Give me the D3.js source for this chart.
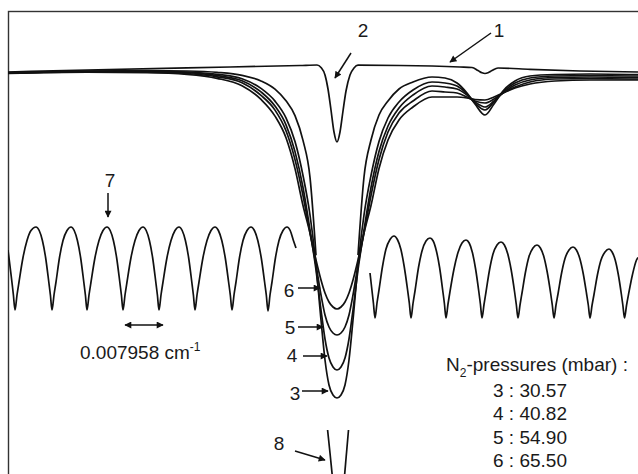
<!DOCTYPE html>
<html>
<head>
<meta charset="utf-8">
<script src="https://cdn.jsdelivr.net/npm/d3@7"></script>
<style>
  body { margin: 0; background: #fff; }
  svg { display: block; }
  text { font-family: "Liberation Sans", Arial, sans-serif; fill: #1a1a1a; }
</style>
</head>
<body>
<svg id="chart" width="638" height="474"></svg>
<script>
// x: relative wavenumber (arb. units, main line centre = 0)
// y: absorption (arb. units, grows downward)

// common x positions of the pressure broadened spectra
const xGrid = [-65.8, -50, -38, -30, -24, -19, -15.2, -12.4, -10.2, -8.4, -6.8, -5.4, -4.2, -3.2, -2.4, -1.6, -0.8, 0,
  0.8, 1.6, 2.4, 3.2, 4.2, 5.4, 6.8, 8.4,
  10.2, 12.4, 15.2, 19, 21.6, 24, 26, 27.6, 29.6, 31.4, 33.2, 35.6, 38.6, 43.6, 50.6, 60.2];

const curve3 = [1.56, 1.28, 1.24, 1.4, 1.86, 2.76, 4.68, 7.22, 10.56, 15.32, 22.1, 30, 40, 51, 59, 64, 66, 66.6,
  66, 64, 59, 51, 40, 30, 22.1, 15.3,
  10.6, 7.4, 5, 3.4, 3.6, 4.2, 5.8, 7.6, 9, 7.4, 5.4, 3.6, 2.6, 2.2, 2.1, 2.2];
const curve4 = [1.6, 1.32, 1.32, 1.54, 2.12, 3.16, 5.38, 8.22, 11.96, 17.32, 24.5, 33, 41, 49, 54.8, 58.6, 60.4, 61,
  60.4, 58.6, 54.8, 49, 41, 33, 24.5, 17.3,
  12.2, 8.6, 6, 4.2, 4.4, 4.8, 6, 7.4, 8.4, 7.2, 5.6, 4, 3, 2.5, 2.4, 2.5];
const curve5 = [1.64, 1.38, 1.42, 1.7, 2.36, 3.56, 6.08, 9.02, 13.16, 18.92, 26.1, 33.6, 40, 46, 50, 52.4, 53.6, 54,
  53.6, 52.4, 50, 46, 40, 33.6, 26.1, 18.9,
  13.4, 9.6, 7.2, 5.2, 5.4, 5.6, 6.4, 7.2, 7.6, 6.8, 5.6, 4.4, 3.4, 2.8, 2.7, 2.8];
const curve6 = [1.68, 1.44, 1.52, 1.86, 2.66, 4.16, 6.88, 10.22, 14.56, 20.72, 28.1, 33.6, 39, 43, 45.6, 47.4, 48.4, 48.8,
  48.4, 47.4, 45.6, 43, 39, 33.6, 28.1, 20.7,
  15, 11, 8.4, 6.4, 6.4, 6.4, 6.6, 6.9, 7, 6.4, 5.6, 4.6, 3.8, 3.2, 3, 3];
// curve 8 wings (centre part missing) and its visible bottom
const curve8 = [1.52, 1.2, 1.12, 1.2, 1.46, 2.06, 3.18, 4.82, 7.16, 10.12, 15.08, 22.46, 38.04,
  null, null, null, null, null, null, null, null, null,
  38, 22.4, 15, 10,
  7.2, 4.8, 3.4, 2.4, 2.6, 3.6, 5.6, 7.8, 10, 7.8, 5.2, 3.2, 2.2, 1.9, 1.8, 1.9];
const curve8BottomX = [-1.88, -1.4, -0.6, 0.3, 1.2, 1.9, 2.3];
const curve8BottomY = [73, 77.6, 85, 88, 85, 77.6, 73];

// low pressure spectrum (lines 1 and 2)
const refX = [-65.8, -50, -30, -7.4, -4, -3.2, -2.4, -1.8, -1.2, -0.6, 0, 0.6, 1.2, 1.8, 2.6, 3.4, 4.2,
  12.6, 24.6, 27, 28.2, 29, 29.6, 30.2, 31, 32.2, 38.6, 48.6, 60.2];
const refY = [1.4, 1.0, 0.56, 0.1, 0, 0.5, 2, 4.8, 9, 13.4, 15.4, 13.4, 9.2, 5.2, 2, 0.6, 0.04,
  0.1, 0.4, 0.5, 1.1, 1.56, 1.7, 1.56, 1.1, 0.6, 0.86, 1.2, 1.4];

// etalon fringes (7), left and right of the main line
const fringeLeftX = [-65.8, -64.72,
  -64.4, -64, -63.6, -62.8, -62, -61.2, -60.2, -59.56, -58.92, -58.28, -57.64, -57.32,
  -57, -56.6, -56.2, -55.5, -54.8, -54, -53.2, -52.56, -51.92, -51.28, -50.64, -50.32,
  -50, -49.6, -49.2, -48.4, -47.6, -46.8, -46, -45.36, -44.72, -44.08, -43.44, -43.12,
  -42.8, -42.4, -42, -41.2, -40.4, -39.6, -38.8, -38.16, -37.52, -36.88, -36.24, -35.92,
  -35.6, -35.2, -34.8, -34, -33.2, -32.4, -31.6, -30.96, -30.32, -29.68, -29.04, -28.72,
  -28.4, -28, -27.6, -26.8, -26, -25.2, -24.4, -23.72, -23.04, -22.36, -21.68, -21.34,
  -21, -20.6, -20.2, -19.5, -18.8, -18, -17.2, -16.52, -15.84, -15.16, -14.48, -14.14,
  -13.8, -13.4, -13, -12.3, -11.6, -10.8, -10, -9.36, -8.72, -8.2];
const fringeLeftY = [37, 46,
  49, 46, 43.4, 38.5, 35.1, 33.1, 32.4, 33.1, 35.1, 38.5, 43.4, 46,
  49, 46, 43.4, 38.5, 35.1, 33.1, 32.4, 33.1, 35.1, 38.5, 43.4, 46,
  49, 46, 43.4, 38.5, 35.1, 33.1, 32.4, 33.1, 35.1, 38.5, 43.4, 46,
  49, 46, 43.4, 38.5, 35.1, 33.1, 32.4, 33.1, 35.1, 38.5, 43.4, 46,
  49, 46, 43.4, 38.5, 35.1, 33.1, 32.4, 33.1, 35.1, 38.5, 43.4, 46,
  49, 46, 43.4, 38.5, 35.1, 33.1, 32.4, 33.1, 35.1, 38.5, 43.4, 46,
  49, 46, 43.4, 38.5, 35.1, 33.1, 32.4, 33.1, 35.1, 38.5, 43.4, 46,
  49.2, 46, 43.4, 38.5, 35.1, 33.1, 32.4, 33.1, 35.1, 36.6];
const fringeRightX = [6.6, 7.28,
  7.6, 8, 8.4, 9.1, 9.8, 10.6, 11.4, 12.08, 12.76, 13.44, 14.12, 14.46,
  14.8, 15.2, 15.6, 16.3, 17, 17.8, 18.6, 19.24, 19.88, 20.52, 21.16, 21.48,
  21.8, 22.2, 22.6, 23.4, 24.2, 25, 25.8, 26.44, 27.08, 27.72, 28.36, 28.68,
  29, 29.4, 29.8, 30.5, 31.2, 32, 32.8, 33.48, 34.16, 34.84, 35.52, 35.86,
  36.2, 36.6, 37, 37.7, 38.4, 39.2, 40, 40.68, 41.36, 42.04, 42.72, 43.06,
  43.4, 43.8, 44.2, 44.9, 45.6, 46.4, 47.2, 47.88, 48.56, 49.24, 49.92, 50.26,
  50.6, 51, 51.4, 52.1, 52.8, 53.6, 54.4, 55.02, 55.64, 56.26, 56.88, 57.18,
  57.5, 57.9, 58.3, 59.1, 59.9, 60.2];
const fringeRightY = [41.6, 47.6,
  50.6, 47.6, 45, 40.3, 36.8, 34.9, 34.2, 34.9, 36.8, 40.3, 45, 47.6,
  50.6, 47.7, 45.2, 40.5, 37.2, 35.2, 34.6, 35.2, 37.2, 40.5, 45.2, 47.7,
  50.6, 47.8, 45.3, 40.8, 37.5, 35.6, 35, 35.6, 37.5, 40.8, 45.3, 47.8,
  50.6, 47.9, 45.4, 41, 37.8, 36, 35.4, 36, 37.8, 41, 45.4, 47.9,
  50.6, 48, 45.6, 41.4, 38.3, 36.6, 36, 36.6, 38.3, 41.4, 45.6, 48,
  50.6, 48, 45.8, 41.7, 38.7, 37, 36.4, 37, 38.7, 41.7, 45.8, 48,
  50.6, 48.1, 45.9, 41.9, 39, 37.4, 36.8, 37.4, 39, 41.9, 45.9, 48.1,
  50.6, 48.1, 45.9, 41.9, 39, 38.5];

const curveIds = [3, 4, 5, 6];
const pressures = ["30.57", "40.82", "54.90", "65.50"];

const svg = d3.select("#chart");
const x = d3.scaleLinear().domain([-65.8, 60.2]).range([8, 638]);
const y = d3.scaleLinear().domain([0, 81.8]).range([65, 474]);

const defs = svg.append("defs");
defs.append("clipPath").attr("id", "frame")
  .append("rect").attr("x", 8).attr("y", 11).attr("width", 640).attr("height", 470);
defs.append("marker")
  .attr("id", "head")
  .attr("viewBox", "0 0 10 10")
  .attr("refX", 9).attr("refY", 5)
  .attr("markerUnits", "userSpaceOnUse")
  .attr("markerWidth", 8).attr("markerHeight", 7)
  .attr("orient", "auto-start-reverse")
  .append("path").attr("d", "M0,0L10,5L0,10z").attr("fill", "#111");

// frame (cut at right and bottom)
svg.append("rect")
  .attr("x", 8.5).attr("y", 11.5)
  .attr("width", 660).attr("height", 500)
  .attr("fill", "none").attr("stroke", "#333").attr("stroke-width", 1.4);

const line = d3.line()
  .defined(d => d[1] != null)
  .x(d => x(d[0]))
  .y(d => y(d[1]))
  .curve(d3.curveMonotoneX);

const zip = (xs, ys) => xs.map((v, i) => [v, ys[i]]);

const plot = svg.append("g").attr("clip-path", "url(#frame)");

const series = [
  zip(refX, refY),
  ...[curve3, curve4, curve5, curve6, curve8].map(vals => zip(xGrid, vals)),
  zip(curve8BottomX, curve8BottomY),
  zip(fringeLeftX, fringeLeftY),
  zip(fringeRightX, fringeRightY)
];

plot.selectAll("path.spec")
  .data(series)
  .enter().append("path")
  .attr("class", "spec")
  .attr("d", line)
  .attr("fill", "none")
  .attr("stroke", "#111")
  .attr("stroke-width", 1.7)
  .attr("stroke-linejoin", "round");

// labels and arrows
const labels = [
  { t: "1", x: 499, y: 37 }, { t: "2", x: 363, y: 37 }, { t: "7", x: 110, y: 187 },
  { t: "6", x: 289, y: 297 }, { t: "5", x: 290, y: 334 }, { t: "4", x: 292, y: 362 },
  { t: "3", x: 295, y: 400 }, { t: "8", x: 279, y: 450 }
];
svg.selectAll("text.lab")
  .data(labels)
  .enter().append("text")
  .attr("class", "lab")
  .attr("x", d => d.x).attr("y", d => d.y)
  .attr("text-anchor", "middle")
  .attr("font-size", 19)
  .text(d => d.t);

const arrows = [
  [491, 33, 450, 62], [351, 53, 335, 78], [108, 193, 108, 217],
  [298, 288, 320, 288], [298, 327, 323, 327], [303, 356, 327, 356],
  [302, 391, 328, 391], [295, 451, 325, 460]
];
svg.selectAll("line.arr")
  .data(arrows)
  .enter().append("line")
  .attr("class", "arr")
  .attr("x1", d => d[0]).attr("y1", d => d[1])
  .attr("x2", d => d[2]).attr("y2", d => d[3])
  .attr("stroke", "#111").attr("stroke-width", 1.5)
  .attr("marker-end", "url(#head)");

// fringe spacing
svg.append("line")
  .attr("x1", 125).attr("y1", 325).attr("x2", 163).attr("y2", 325)
  .attr("stroke", "#111").attr("stroke-width", 1.5)
  .attr("marker-start", "url(#head)").attr("marker-end", "url(#head)");

const spacing = svg.append("text").attr("x", 80).attr("y", 359).attr("font-size", 19);
spacing.append("tspan").text("0.007958 cm");
spacing.append("tspan").attr("font-size", 12).attr("dy", -8).text("-1");

// pressures legend
const legend = svg.append("text").attr("x", 446).attr("y", 371).attr("font-size", 19);
legend.append("tspan").text("N");
legend.append("tspan").attr("font-size", 12).attr("dy", 6).text("2");
legend.append("tspan").attr("dy", -6).text("-pressures (mbar) :");

svg.selectAll("text.press")
  .data(curveIds)
  .enter().append("text")
  .attr("class", "press")
  .attr("x", 493)
  .attr("y", (d, i) => 397 + i * 23.4)
  .attr("font-size", 19)
  .text((d, i) => `${d} : ${pressures[i]}`);
</script>
</body>
</html>
